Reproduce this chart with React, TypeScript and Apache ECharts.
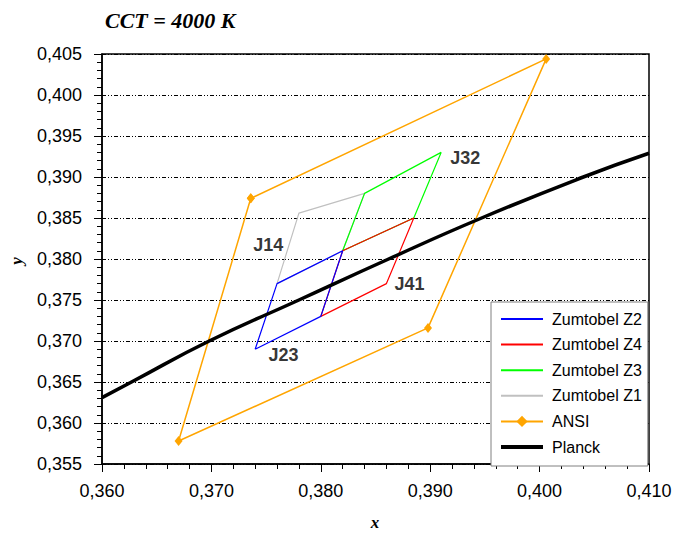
import React, { useEffect, useRef } from "react";
import * as echarts from "echarts";

// Zumtobel quadrangles (CIE x, y), closed polygons
const z2X = [0.374, 0.376, 0.382, 0.38, 0.374];
const z2Y = [0.369, 0.377, 0.381, 0.373, 0.369];
const z4X = [0.38, 0.382, 0.3885, 0.386, 0.38];
const z4Y = [0.373, 0.381, 0.385, 0.377, 0.373];
const z3X = [0.382, 0.384, 0.391, 0.3885, 0.382];
const z3Y = [0.381, 0.388, 0.393, 0.385, 0.381];
const z1X = [0.376, 0.378, 0.384, 0.382, 0.376];
const z1Y = [0.377, 0.3856, 0.388, 0.381, 0.377];
// ANSI C78.377 4000 K quadrangle
const ansiX = [0.3736, 0.4006, 0.3898, 0.367, 0.3736];
const ansiY = [0.3874, 0.4044, 0.3716, 0.3578, 0.3874];
// Planck locus
const planckX = [0.36, 0.3627, 0.3698, 0.378, 0.3862, 0.3947, 0.404, 0.41];
const planckY = [0.3631, 0.365, 0.37, 0.375, 0.38, 0.385, 0.39, 0.3929];
// Bin labels
const labelNames = ["J32", "J14", "J41", "J23"];
const labelX = [0.3932, 0.3752, 0.3881, 0.3766];
const labelY = [0.3923, 0.3817, 0.377, 0.3683];

const legendOrder = ["Zumtobel Z2", "Zumtobel Z4", "Zumtobel Z3", "Zumtobel Z1", "ANSI", "Planck"];

const zip = (xs: number[], ys: number[]) => xs.map((x, i) => [x, ys[i]]);
const fmt = (v: number) => v.toFixed(3).replace(".", ",");

export default function App() {
  const ref = useRef<HTMLDivElement>(null);
  useEffect(() => {
    if (!ref.current) return;
    const chart = echarts.init(ref.current, null, { renderer: "svg" });
    const sans = "Liberation Sans, Arial, sans-serif";
    const serif = "Liberation Serif, Times New Roman, serif";
    const quad = (name: string, xs: number[], ys: number[], color: string) => ({
      name,
      type: "line",
      data: zip(xs, ys),
      symbol: "none",
      lineStyle: { color, width: 1.2 },
      itemStyle: { color },
    });
    chart.setOption({
      animation: false,
      textStyle: { fontFamily: sans },
      grid: {
        left: 102,
        right: 26,
        top: 54,
        bottom: 70,
        show: true,
        borderColor: "#000",
        borderWidth: 1.5,
        backgroundColor: "#fff",
      },
      xAxis: {
        type: "value",
        min: 0.36,
        max: 0.41,
        interval: 0.01,
        axisLine: { show: true, onZero: false, lineStyle: { color: "#000", width: 1.5 } },
        axisTick: { show: true, length: 8, lineStyle: { color: "#000", width: 1 } },
        minorTick: { show: true, splitNumber: 5, length: 5, lineStyle: { color: "#000", width: 1 } },
        splitLine: { show: false },
        axisLabel: { formatter: fmt, fontSize: 18, color: "#000", margin: 18, fontFamily: sans },
      },
      yAxis: {
        type: "value",
        min: 0.355,
        max: 0.405,
        interval: 0.005,
        axisLine: { show: true, onZero: false, lineStyle: { color: "#000", width: 1.5 } },
        axisTick: { show: true, length: 8, lineStyle: { color: "#000", width: 1 } },
        minorTick: { show: true, splitNumber: 5, length: 5, lineStyle: { color: "#000", width: 1 } },
        splitLine: { show: true, lineStyle: { color: "#000", width: 1, type: [4, 2, 1, 2, 1, 2] } },
        axisLabel: { formatter: fmt, fontSize: 18, color: "#000", margin: 20, fontFamily: sans },
      },
      legend: {
        data: legendOrder.map((n) =>
          n === "ANSI"
            ? { name: n }
            : n === "Planck"
            ? { name: n, itemStyle: { opacity: 0 }, lineStyle: { width: 4 } }
            : { name: n, itemStyle: { opacity: 0 } }
        ),
        orient: "vertical",
        left: 491,
        top: 302,
        padding: [9, 6, 11, 8],
        itemGap: 9.6,
        itemWidth: 42,
        itemHeight: 14,
        backgroundColor: "#fff",
        borderColor: "#808080",
        borderWidth: 1,
        borderRadius: 0,
        textStyle: { fontSize: 16, color: "#000", fontFamily: sans, padding: [0, 0, 0, 4] },
      },
      graphic: [
        {
          type: "text",
          left: 105,
          top: 9,
          style: { text: "CCT = 4000 K", font: "bold italic 22px " + serif, fill: "#000" },
        },
        {
          type: "text",
          x: 375,
          y: 522,
          style: {
            text: "x",
            font: "bold italic 17px " + serif,
            fill: "#000",
            textAlign: "center",
            textVerticalAlign: "middle",
          },
        },
        {
          type: "text",
          x: 16,
          y: 261,
          rotation: Math.PI / 2,
          style: {
            text: "y",
            font: "bold italic 17px " + serif,
            fill: "#000",
            textAlign: "center",
            textVerticalAlign: "middle",
          },
        },
      ],
      series: [
        quad("Zumtobel Z1", z1X, z1Y, "#C0C0C0"),
        quad("Zumtobel Z3", z3X, z3Y, "#00FF00"),
        quad("Zumtobel Z4", z4X, z4Y, "#FF0000"),
        quad("Zumtobel Z2", z2X, z2Y, "#0000FF"),
        {
          name: "ANSI",
          type: "line",
          data: zip(ansiX, ansiY),
          symbol: "diamond",
          symbolSize: [8, 10],
          lineStyle: { color: "#FFA500", width: 1.5 },
          itemStyle: { color: "#FFA500" },
        },
        {
          name: "Planck",
          type: "line",
          data: zip(planckX, planckY),
          symbol: "none",
          smooth: true,
          lineStyle: { color: "#000", width: 3.5 },
          itemStyle: { color: "#000" },
        },
        {
          name: "labels",
          type: "scatter",
          data: labelNames.map((n, i) => ({ name: n, value: [labelX[i], labelY[i]] })),
          symbolSize: 1,
          itemStyle: { color: "rgba(0,0,0,0)" },
          label: {
            show: true,
            position: "inside",
            formatter: "{b}",
            fontSize: 18,
            fontWeight: "bold",
            color: "#000",
            fontFamily: sans,
          },
          z: 10,
        },
      ],
    });
    return () => chart.dispose();
  }, []);
  return <div ref={ref} style={{ width: 675, height: 534, position: "absolute", left: 0, top: 0 }} />;
}
